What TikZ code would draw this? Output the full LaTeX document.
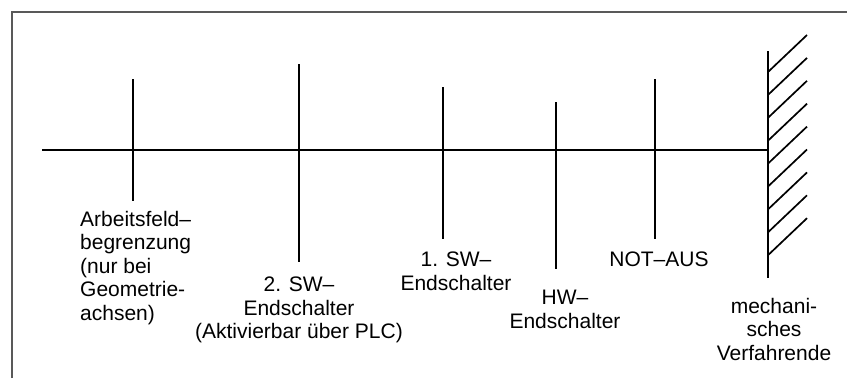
\documentclass[tikz,border=0pt]{standalone}
\usepackage{fontspec}
\setmainfont{Liberation Sans}
\usetikzlibrary{positioning}
\usetikzlibrary{calc}

\begin{document}
\begin{tikzpicture}[x=1pt, y=-1pt,
    marktext/.style={inner sep=0pt, anchor=north, align=center, font=\fontsize{21}{23.5}\selectfont}]
    \useasboundingbox (0, 0) rectangle (847, 378);
    \path[draw, color=black!65, line width=1.3pt] (12, 378) -- (12, 12) -- (847, 12);
    \coordinate (axisstart) at (42, 150);
    \coordinate (wall) at (768, 150);
    \path[draw, line width=1.8pt] (axisstart) -- (wall);
    % Markierungen: x, oberes Ende, unteres Ende
    \foreach \x/\ya/\yb in {133/79/201, 299/64/262, 443/87/239, 556/102/269, 655/79/239} {\path[draw, line width=1.8pt] (\x, \ya) -- (\x, \yb);}
    \path[draw, line width=2pt] (768, 51) -- (768, 278);
    \foreach \i in {0,...,8} {\path[draw, line width=1.7pt] (768, 72+22.9*\i) -- ++(39, -37);}
    \node[marktext, align=left, anchor=north west] (afb) at (80, 211) {Arbeitsfeld--\\begrenzung\\(nur bei\\Geometrie-\\achsen)};
    \node[marktext] (swtwo) at (299, 277) {2. SW--\\Endschalter\\(Aktivierbar über PLC)};
    \node[marktext] (swone) at (456, 252) {1. SW--\\Endschalter};
    \node[marktext] (hw) at (565, 290) {HW--\\Endschalter};
    \node[marktext] (notaus) at (659, 252) {NOT--AUS};
    \node[marktext] (ende) at (774, 298) {mechani-\\sches\\Verfahrende};
\end{tikzpicture}
\end{document}
